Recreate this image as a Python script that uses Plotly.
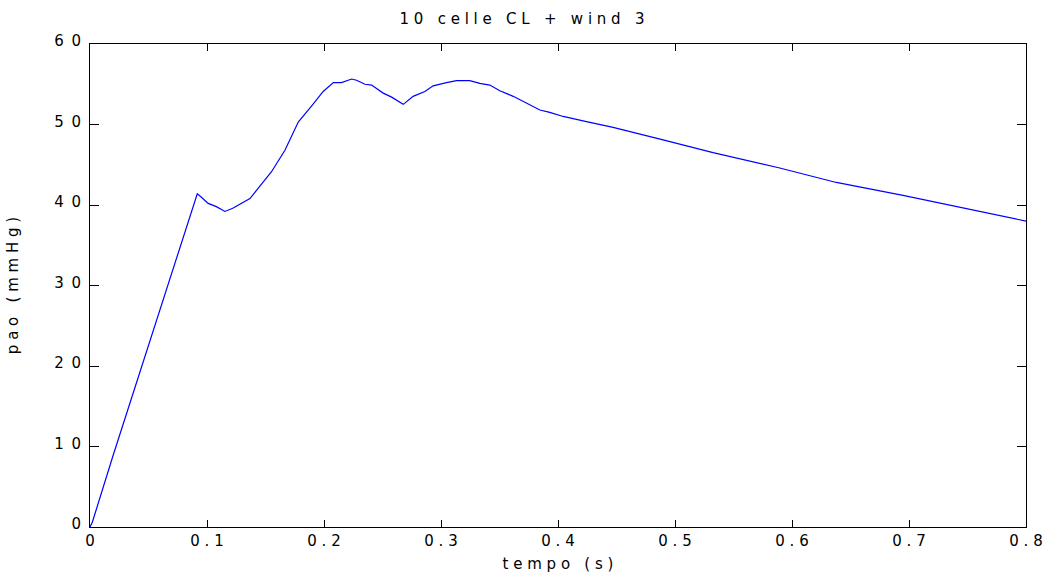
import plotly.graph_objects as go

# Data
tempo = [0, 0.002, 0.02, 0.04, 0.06, 0.08, 0.088, 0.0917, 0.095, 0.101, 0.108,
         0.1153, 0.122, 0.1296, 0.1367, 0.1438, 0.155, 0.1666, 0.178, 0.19,
         0.1993, 0.208, 0.215, 0.2236, 0.2278, 0.235, 0.2407, 0.2506, 0.2578,
         0.2677, 0.2762, 0.2862, 0.2933, 0.3047, 0.3133, 0.3246, 0.3332, 0.3417,
         0.3503, 0.3617, 0.3759, 0.3845, 0.393, 0.4044, 0.4243, 0.4471, 0.4898,
         0.5325, 0.5895, 0.6379, 0.6949, 0.7518, 0.8]
pao = [0, 0.6, 9.0, 18.1, 27.1, 36.1, 40.0, 41.4, 41.0, 40.2, 39.8,
       39.2, 39.6, 40.2, 40.8, 42.1, 44.1, 46.8, 50.3, 52.4,
       54.1, 55.2, 55.2, 55.65, 55.5, 55.0, 54.9, 53.9, 53.4,
       52.5, 53.5, 54.1, 54.8, 55.2, 55.45, 55.45, 55.1, 54.9,
       54.2, 53.5, 52.4, 51.8, 51.5, 51.0, 50.35, 49.65, 48.1,
       46.5, 44.6, 42.8, 41.2, 39.5, 38.0]

x_ticks = [0, 0.1, 0.2, 0.3, 0.4, 0.5, 0.6, 0.7, 0.8]
x_ticklabels = ["0", "0.1", "0.2", "0.3", "0.4", "0.5", "0.6", "0.7", "0.8"]
y_ticks = [0, 10, 20, 30, 40, 50, 60]
y_ticklabels = ["0", "10", "20", "30", "40", "50", "60"]

title_text = "10 celle CL + wind 3"
x_title = "tempo (s)"
y_title = "pao (mmHg)"

NB = "\u00a0"


def spaced(s, sep=NB):
    return sep.join(list(s))


FONT = "DejaVu Sans"

fig = go.Figure()
fig.add_trace(go.Scatter(x=tempo, y=pao, mode="lines",
                         line=dict(color="#0000ff", width=1.2),
                         showlegend=False, hoverinfo="skip"))

fig.update_layout(
    width=1044, height=573,
    margin=dict(l=90, r=18, t=44, b=46, autoexpand=False),
    paper_bgcolor="white", plot_bgcolor="white",
    font=dict(family=FONT, size=15, color="black"),
    title=dict(text=spaced(title_text), x=0.5, xanchor="center",
               y=1 - 19 / 573, yanchor="middle",
               font=dict(family=FONT, size=15, color="black")),
)

fig.update_xaxes(
    range=[0, 0.8], tickmode="array", tickvals=x_ticks,
    ticktext=[spaced(t) for t in x_ticklabels],
    showgrid=False, zeroline=False, showline=True, linecolor="black",
    linewidth=1, mirror="ticks", ticks="inside", ticklen=7, tickcolor="black",
    tickwidth=1, ticklabelstandoff=0, ticklabeloverflow="allow",
    automargin=False,
    title=dict(text=spaced(x_title), standoff=12,
               font=dict(family=FONT, size=15)),
)
fig.update_yaxes(
    range=[0, 60], tickmode="array", tickvals=y_ticks,
    ticktext=[spaced(t, NB + "\u2009") for t in y_ticklabels],
    showgrid=False, zeroline=False, showline=True, linecolor="black",
    linewidth=1, mirror="ticks", ticks="inside", ticklen=9, tickcolor="black",
    tickwidth=1, ticklabelstandoff=5, ticklabelshift=-3,
    ticklabeloverflow="allow", automargin=False,
    title=dict(text=spaced(y_title), standoff=31,
               font=dict(family=FONT, size=15)),
)

fig.write_html("out.html")
